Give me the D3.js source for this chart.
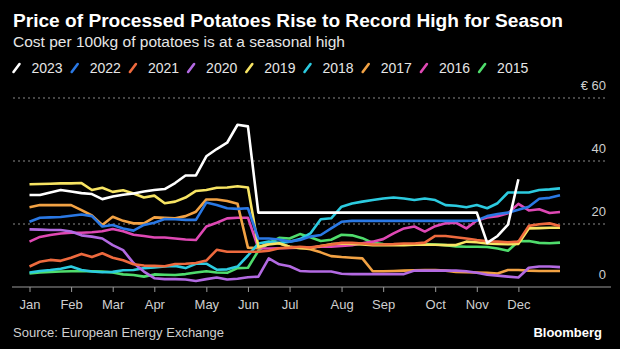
<!DOCTYPE html>
<html>
<head>
<meta charset="utf-8">
<script src="https://cdn.jsdelivr.net/npm/d3@7"></script>
<style>
  html, body { margin: 0; padding: 0; background: #000; }
  svg { display: block; font-family: "Liberation Sans", Arial, sans-serif; }
</style>
</head>
<body>
<div id="chart"></div>
<script>
// weekly price per 100kg, one value per week of the year (week 0 = first week of Jan)
const years = ["2023", "2022", "2021", "2020", "2019", "2018", "2017", "2016", "2015"];
const colors = ["#ffffff", "#2a78e4", "#ee6a3e", "#b36ae2", "#f7e463", "#2ccbe0", "#f2a244", "#df48b4", "#4fdc6c"];

// 2023 stops after week 47
const p2023 = [29.2, 29.2, 30, 30.8, 30.3, 29.8, 29.5, 27.9, 28.7, 29.3, 29.7, 30.3, 30.8, 31.1, 33, 35.4,
  35.4, 41.5, 43.8, 45.8, 51.5, 51, 23.6, 23.6, 23.6, 23.6, 23.6, 23.6, 23.6, 23.6, 23.6, 23.6,
  23.6, 23.6, 23.6, 23.6, 23.6, 23.6, 23.6, 23.6, 23.6, 23.6, 23.6, 23.6, 14, 16.2, 19.8, 34.2];
const p2022 = [20.7, 22, 22.1, 22.2, 22.6, 23, 22.5, 19.2, 19.7, 18.6, 17.9, 19.7, 20.4, 21.6, 21.5, 21.3,
  21.3, 26.8, 26, 25, 24.8, 25, 15.4, 15.4, 15.1, 14.4, 14.9, 16, 16.5, 18.6, 20.7, 21,
  21, 21, 21, 21, 21, 21, 21, 21, 21, 21, 21, 21.1, 22.5, 23.2, 23.6, 24.5, 25.5, 28, 28.3, 29.1];
const p2021 = [6.5, 8, 8.6, 8.3, 9.3, 10.5, 9.5, 10.7, 9.3, 8.5, 7.2, 6.8, 6.7, 6.6, 7.3, 7.4,
  7.6, 8.4, 11.8, 11.2, 11.2, 11.2, 11.2, 11.5, 12.3, 12.5, 12.8, 12.5, 13, 13.5, 14, 14,
  13.8, 13.5, 13.5, 13.6, 13.8, 13.8, 14.1, 16.2, 16.2, 15.8, 15.4, 14.9, 14.5, 14.4, 14.2, 14.4, 19.4, 19.9, 20.2, 19.4];
const p2020 = [18.3, 18.2, 18.1, 18.1, 17.6, 16.4, 16, 15.4, 13.3, 11.7, 7.6, 4.9, 2.8, 2.5, 2.5, 2.4,
  1.9, 2.5, 3, 2.4, 2.6, 3.1, 3.3, 9.1, 7.2, 6.6, 5.1, 4.9, 4.9, 4.9, 4.2, 4.1,
  4.1, 4.1, 4.1, 4.1, 4.1, 5.2, 5.2, 5.2, 5.2, 5.2, 5, 4.5, 3.9, 3.6, 3.3, 3, 6.1, 6.5, 6.5, 6.3];
const p2019 = [32.6, 32.7, 32.8, 32.9, 32.9, 33, 30.8, 31.5, 30.2, 30.7, 29.7, 28.4, 29, 26.6, 27.1, 28.4,
  30.5, 30.8, 31.5, 31.6, 32, 31.6, 12.8, 13.5, 13.9, 12.8, 12.3, 12.3, 13, 13.6, 13.8, 13.7,
  13.5, 13.3, 13.3, 13.3, 13.3, 13.4, 13.4, 13.4, 13.3, 13.3, 14.4, 14.2, 13.8, 13.7, 13.6, 13.7, 18.6, 18.7, 18.8, 18.8];
const p2018 = [4.6, 5.1, 5.4, 5.8, 6.5, 5.4, 4.9, 4.7, 4.8, 5.3, 5.4, 6, 6.2, 6.5, 6.7, 6,
  7.4, 7.4, 5.5, 5.6, 6.5, 10, 13.8, 14.4, 14, 14.4, 15.2, 17, 21.5, 21.8, 25.5, 26.5,
  27.1, 27.6, 28.1, 28.4, 28.1, 27.6, 28.1, 27.6, 26, 25.8, 25.3, 26, 25, 26.6, 30, 30, 30, 30.8, 31, 31.3];
const p2017 = [25.3, 26, 26, 26, 26, 24.4, 22.7, 19.7, 22.3, 21, 20.2, 20.2, 22.1, 22, 21.8, 22.5,
  23.9, 27.8, 27.8, 27.3, 26.4, 12.5, 12.3, 14.2, 13.9, 12.8, 12.5, 12, 11, 9.8, 9.5, 9.3,
  9.1, 5, 5, 5.1, 5.2, 5.3, 5.4, 5.4, 5.2, 4.8, 4.7, 4.6, 4.5, 4.3, 5.4, 5.4, 5.2, 5.1, 5.1, 5.1];
const p2016 = [14.4, 15.9, 16.5, 17, 17.2, 17.2, 17.4, 17.7, 18.4, 17.7, 16.6, 16.2, 15.7, 15.7, 15.4, 15.1,
  14.9, 19.2, 20.4, 21.8, 22, 22, 12.3, 12.2, 12.3, 12.4, 12.5, 12.6, 12.8, 12.8, 13, 13.3,
  13.9, 14.4, 15.2, 17, 18.6, 19.2, 17.6, 19.3, 20.2, 20.4, 18.6, 21.1, 22.1, 22.5, 23.4, 26.4, 24.3, 24.7, 23.5, 23.8];
const p2015 = [4.3, 4.6, 4.8, 4.9, 5, 5.1, 5, 4.9, 4.6, 4, 3.8, 3.3, 4, 3.9, 3.8, 4.1,
  4.6, 5, 4.6, 4.5, 6, 6.1, 11.5, 13.9, 15.6, 15.4, 16.8, 15.8, 14.6, 15, 16.6, 16.4,
  15.5, 14, 13.6, 13.5, 13.5, 13.5, 13.6, 13.5, 13.3, 12.9, 12.8, 12.8, 12.7, 12.2, 11.5, 14.5, 14.6, 14, 13.9, 14.1];

const series = [p2023, p2022, p2021, p2020, p2019, p2018, p2017, p2016, p2015];

// month ticks sit on the first week of each month
const monthLabels = ["Jan", "Feb", "Mar", "Apr", "May", "Jun", "Jul", "Aug", "Sep", "Oct", "Nov", "Dec"];
const monthWeeks = [0, 4, 8, 12, 17, 21, 25, 30, 34, 39, 43, 47];
const yTicks = [0, 20, 40, 60];

const W = 620, H = 349;
const margin = { top: 98, right: 14, bottom: 62, left: 13 };
const width = W - margin.left - margin.right;
const height = H - margin.top - margin.bottom;

const root = d3.select("#chart").append("svg")
  .attr("width", W)
  .attr("height", H)
  .style("background", "#000");

// headline block
root.append("text")
  .attr("x", 13).attr("y", 27)
  .attr("fill", "#fff")
  .style("font-size", "17.5px")
  .style("font-weight", "bold")
  .attr("textLength", 550)
  .attr("lengthAdjust", "spacingAndGlyphs")
  .text("Price of Processed Potatoes Rise to Record High for Season");

root.append("text")
  .attr("x", 13).attr("y", 47)
  .attr("fill", "#e6e6e6")
  .style("font-size", "14px")
  .attr("textLength", 332)
  .attr("lengthAdjust", "spacingAndGlyphs")
  .text("Cost per 100kg of potatoes is at a seasonal high");

// legend: coloured slash + year
const legend = root.append("g").attr("transform", "translate(0,68)");
const item = legend.selectAll("g")
  .data(years)
  .enter().append("g")
  .attr("transform", (d, i) => `translate(${16.5 + i * 58.2},0)`);

item.append("line")
  .attr("x1", -3).attr("y1", 4)
  .attr("x2", 3).attr("y2", -4)
  .attr("stroke", (d, i) => colors[i])
  .attr("stroke-width", 2.6)
  .attr("stroke-linecap", "round");

item.append("text")
  .attr("x", 15).attr("y", 5)
  .attr("fill", "#e6e6e6")
  .style("font-size", "14px")
  .text(d => d);

const svg = root.append("g")
  .attr("transform", `translate(${margin.left},${margin.top})`);

const x = d3.scaleLinear()
  .domain([0, 51])
  .range([16.5, 547]);

const y = d3.scaleLinear()
  .domain([0, 60])
  .range([height, 0]);

// dotted grid
svg.append("g")
  .selectAll("line")
  .data(yTicks.filter(d => d > 0))
  .enter().append("line")
  .attr("x1", 0).attr("x2", width)
  .attr("y1", d => y(d)).attr("y2", d => y(d))
  .attr("stroke", "#8a8a8a")
  .attr("stroke-width", 1)
  .attr("stroke-dasharray", "2,3");

// y labels sit above their grid line, right aligned
svg.append("g")
  .selectAll("text")
  .data(yTicks)
  .enter().append("text")
  .attr("x", width)
  .attr("y", d => y(d) - 8)
  .attr("text-anchor", "end")
  .attr("fill", "#cfcfcf")
  .style("font-size", "13px")
  .text(d => d === 60 ? "€ 60" : d);

// x axis
const xAxis = svg.append("g")
  .attr("transform", `translate(0,${height})`)
  .call(d3.axisBottom(x)
    .tickValues(monthWeeks)
    .tickFormat((d, i) => monthLabels[i])
    .tickSize(5)
    .tickPadding(8));

xAxis.select(".domain")
  .attr("d", `M-1,0H${width + 5}`)
  .attr("stroke", "#9a9a9a");
xAxis.selectAll(".tick line").attr("stroke", "#9a9a9a");
xAxis.selectAll(".tick text")
  .attr("fill", "#cfcfcf")
  .style("font-size", "13px")
  .style("font-family", "\"Liberation Sans\", Arial, sans-serif");

const line = d3.line()
  .x((d, i) => x(i))
  .y(d => y(d));

// oldest year first so 2023 ends up on top
svg.append("g")
  .selectAll("path")
  .data(series.map((s, i) => ({ values: s, color: colors[i] })).reverse())
  .enter().append("path")
  .attr("d", d => line(d.values))
  .attr("fill", "none")
  .attr("stroke", d => d.color)
  .attr("stroke-width", 2.6)
  .attr("stroke-linejoin", "round");

// footer
root.append("text")
  .attr("x", 13).attr("y", 337)
  .attr("fill", "#cfcfcf")
  .style("font-size", "13px")
  .text("Source: European Energy Exchange");

root.append("text")
  .attr("x", 602).attr("y", 337)
  .attr("text-anchor", "end")
  .attr("fill", "#fff")
  .style("font-size", "13px")
  .style("font-weight", "bold")
  .text("Bloomberg");
</script>
</body>
</html>
